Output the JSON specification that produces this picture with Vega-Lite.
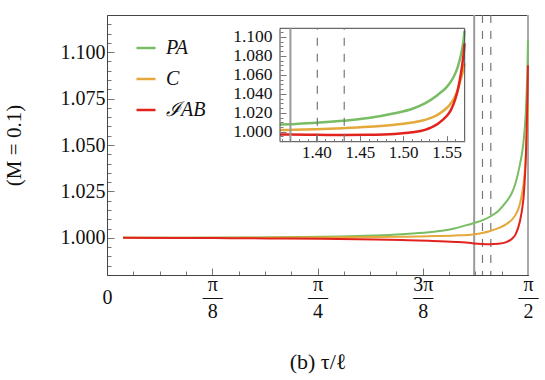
{
  "$schema": "https://vega.github.io/schema/vega-lite/v6.json",
  "width": 421,
  "height": 260,
  "autosize": {"type": "none"},
  "padding": {"left": 107, "top": 15, "right": 17, "bottom": 105},
  "background": "white",
  "config": {
    "view": {"stroke": "#444", "strokeWidth": 1},
    "font": "Liberation Serif",
    "axis": {
      "labelFont": "Liberation Serif",
      "titleFont": "Liberation Serif",
      "labelColor": "#111",
      "titleColor": "#111",
      "titleFontWeight": "normal",
      "grid": false,
      "domainColor": "#444",
      "tickColor": "#777",
      "labelOverlap": false,
      "labelFlush": false
    }
  },
  "datasets": {
    "curves": [
      {"x": 0.06, "s": "P_A", "y": 1.0000},
      {"x": 0.3, "s": "P_A", "y": 1.0001},
      {"x": 0.5, "s": "P_A", "y": 1.0002},
      {"x": 0.7, "s": "P_A", "y": 1.0004},
      {"x": 0.9, "s": "P_A", "y": 1.0008},
      {"x": 1.0, "s": "P_A", "y": 1.0013},
      {"x": 1.1, "s": "P_A", "y": 1.0020},
      {"x": 1.2, "s": "P_A", "y": 1.0030},
      {"x": 1.25, "s": "P_A", "y": 1.0038},
      {"x": 1.3, "s": "P_A", "y": 1.0052},
      {"x": 1.358, "s": "P_A", "y": 1.0075},
      {"x": 1.37, "s": "P_A", "y": 1.0080},
      {"x": 1.4, "s": "P_A", "y": 1.0094},
      {"x": 1.43, "s": "P_A", "y": 1.0115},
      {"x": 1.46, "s": "P_A", "y": 1.0145},
      {"x": 1.49, "s": "P_A", "y": 1.0195},
      {"x": 1.51, "s": "P_A", "y": 1.0240},
      {"x": 1.525, "s": "P_A", "y": 1.0298},
      {"x": 1.54, "s": "P_A", "y": 1.0390},
      {"x": 1.55, "s": "P_A", "y": 1.0470},
      {"x": 1.555, "s": "P_A", "y": 1.0530},
      {"x": 1.56, "s": "P_A", "y": 1.0615},
      {"x": 1.563, "s": "P_A", "y": 1.0690},
      {"x": 1.566, "s": "P_A", "y": 1.0790},
      {"x": 1.568, "s": "P_A", "y": 1.0878},
      {"x": 1.5695, "s": "P_A", "y": 1.0965},
      {"x": 1.5706, "s": "P_A", "y": 1.1065},
      {"x": 0.06, "s": "C", "y": 1.0000},
      {"x": 0.5, "s": "C", "y": 1.0000},
      {"x": 0.8, "s": "C", "y": 1.0002},
      {"x": 1.0, "s": "C", "y": 1.0004},
      {"x": 1.1, "s": "C", "y": 1.0006},
      {"x": 1.2, "s": "C", "y": 1.0009},
      {"x": 1.3, "s": "C", "y": 1.0013},
      {"x": 1.358, "s": "C", "y": 1.0017},
      {"x": 1.37, "s": "C", "y": 1.0019},
      {"x": 1.4, "s": "C", "y": 1.0026},
      {"x": 1.43, "s": "C", "y": 1.0037},
      {"x": 1.46, "s": "C", "y": 1.0052},
      {"x": 1.49, "s": "C", "y": 1.0074},
      {"x": 1.51, "s": "C", "y": 1.0097},
      {"x": 1.525, "s": "C", "y": 1.0125},
      {"x": 1.54, "s": "C", "y": 1.0180},
      {"x": 1.55, "s": "C", "y": 1.0250},
      {"x": 1.555, "s": "C", "y": 1.0300},
      {"x": 1.56, "s": "C", "y": 1.0380},
      {"x": 1.563, "s": "C", "y": 1.0450},
      {"x": 1.566, "s": "C", "y": 1.0545},
      {"x": 1.568, "s": "C", "y": 1.0610},
      {"x": 1.5695, "s": "C", "y": 1.0665},
      {"x": 1.5706, "s": "C", "y": 1.0720},
      {"x": 0.06, "s": "I_AB", "y": 1.0000},
      {"x": 0.4, "s": "I_AB", "y": 0.9999},
      {"x": 0.6, "s": "I_AB", "y": 0.9997},
      {"x": 0.8, "s": "I_AB", "y": 0.9995},
      {"x": 1.0, "s": "I_AB", "y": 0.9991},
      {"x": 1.1, "s": "I_AB", "y": 0.9988},
      {"x": 1.2, "s": "I_AB", "y": 0.9984},
      {"x": 1.3, "s": "I_AB", "y": 0.9978},
      {"x": 1.358, "s": "I_AB", "y": 0.9972},
      {"x": 1.37, "s": "I_AB", "y": 0.9970},
      {"x": 1.4, "s": "I_AB", "y": 0.9967},
      {"x": 1.43, "s": "I_AB", "y": 0.9966},
      {"x": 1.46, "s": "I_AB", "y": 0.9968},
      {"x": 1.49, "s": "I_AB", "y": 0.9977},
      {"x": 1.51, "s": "I_AB", "y": 0.9994},
      {"x": 1.525, "s": "I_AB", "y": 1.0020},
      {"x": 1.54, "s": "I_AB", "y": 1.0085},
      {"x": 1.55, "s": "I_AB", "y": 1.0165},
      {"x": 1.555, "s": "I_AB", "y": 1.0230},
      {"x": 1.56, "s": "I_AB", "y": 1.0345},
      {"x": 1.563, "s": "I_AB", "y": 1.0445},
      {"x": 1.566, "s": "I_AB", "y": 1.0590},
      {"x": 1.568, "s": "I_AB", "y": 1.0710},
      {"x": 1.5695, "s": "I_AB", "y": 1.0815},
      {"x": 1.5706, "s": "I_AB", "y": 1.0930}
    ],
    "vlines": [
      {"x": 1.37, "k": "cut"},
      {"x": 1.401, "k": "dash"},
      {"x": 1.432, "k": "dash"},
      {"x": 1.5707963, "k": "edge"}
    ]
  },
  "layer": [
    {
      "encoding": {
        "x": {
          "field": "x",
          "type": "quantitative",
          "scale": {"domain": [0, 1.5707963], "nice": false, "zero": false},
          "axis": {
            "orient": "bottom",
            "tickCount": 200,
            "values": [0, 0.09817477, 0.19634954, 0.29452431, 0.39269908, 0.49087385, 0.58904862, 0.68722339, 0.78539816, 0.88357293, 0.9817477, 1.07992247, 1.17809725, 1.27627202, 1.37444679, 1.47262156, 1.5707963],
            "labelExpr": "round(datum.value/(PI/32)) == 0 ? ['', '0'] : round(datum.value/(PI/32)) == 4 ? ['π','—','8'] : round(datum.value/(PI/32)) == 8 ? ['π','—','4'] : round(datum.value/(PI/32)) == 12 ? ['3π','—','8'] : round(datum.value/(PI/32)) == 16 ? ['π','—','2'] : ''",
            "tickSize": {"condition": {"test": "round(datum.value/(PI/32)) % 4 == 0", "value": -7}, "value": -4},
            "labelFontSize": 20,
            "labelLineHeight": 13.5,
            "labelBaseline": "top",
            "labelAngle": 0,
            "labelPadding": 6,
            "labelOverlap": false,
            "labelFlush": false,
            "title": "(b) τ/ℓ",
            "titleFontSize": 22,
            "titlePadding": 30
          }
        }
      },
      "layer": [
        {
          "data": {"name": "vlines"},
          "transform": [{"filter": "datum.k == 'cut'"}],
          "mark": {"type": "rule", "color": "#9a9a9a", "strokeWidth": 2},
          "encoding": {}
        },
        {
          "data": {"name": "vlines"},
          "transform": [{"filter": "datum.k == 'dash'"}],
          "mark": {"type": "rule", "color": "#777", "strokeWidth": 1.2, "strokeDash": [8, 8]},
          "encoding": {}
        },
        {
          "data": {"name": "vlines"},
          "transform": [{"filter": "datum.k == 'edge'"}],
          "mark": {"type": "rule", "color": "#aaa", "strokeWidth": 2},
          "encoding": {}
        },
        {
          "data": {"name": "curves"},
          "mark": {"type": "line", "strokeWidth": 2, "interpolate": "monotone"},
          "encoding": {
            "y": {
              "field": "y",
              "type": "quantitative",
              "scale": {"domain": [0.98, 1.12], "nice": false, "zero": false},
              "axis": {
                "orient": "left",
                "tickCount": 200,
                "values": [0.985, 0.99, 0.995, 1.0, 1.005, 1.01, 1.015, 1.02, 1.025, 1.03, 1.035, 1.04, 1.045, 1.05, 1.055, 1.06, 1.065, 1.07, 1.075, 1.08, 1.085, 1.09, 1.095, 1.1, 1.105, 1.11, 1.115],
                "labelExpr": "abs(datum.value*40 - round(datum.value*40)) < 1e-6 ? format(datum.value, '.3f') : ''",
                "tickSize": {"condition": {"test": "abs(datum.value*40 - round(datum.value*40)) < 1e-6", "value": -7}, "value": -4},
                "labelFontSize": 20,
                "labelPadding": 9,
                "labelOverlap": false,
                "title": "(M = 0.1)",
                "titleFontSize": 21,
                "titlePadding": 36
              }
            },
            "color": {
              "field": "s",
              "type": "nominal",
              "scale": {"domain": ["P_A", "C", "I_AB"], "range": ["#78bd64", "#e4a83b", "#e2221d"]},
              "legend": {
                "orient": "none",
                "legendX": 28,
                "legendY": 22,
                "title": null,
                "symbolType": "stroke",
                "symbolSize": 361,
                "symbolStrokeWidth": 2.5,
                "labelFont": "Liberation Serif",
                "labelFontSize": 20,
                "labelFontStyle": "italic",
                "labelColor": "#111",
                "labelOffset": 9,
                "rowPadding": 10,
                "padding": 0,
                "labelExpr": "datum.label == 'P_A' ? 'PA' : datum.label == 'I_AB' ? 'ℐAB' : datum.label"
              }
            }
          }
        }
      ]
    },
    {
      "layer": [
        {
          "data": {"name": "curves"},
          "transform": [{"filter": "datum.x >= 1.358"}],
          "mark": {"type": "line", "strokeWidth": 2.5, "interpolate": "monotone"},
          "encoding": {
            "x": {
              "field": "x",
              "type": "quantitative",
              "scale": {"domain": [1.358, 1.5708], "range": [173, 357.7], "nice": false, "zero": false},
              "axis": {
                "orient": "bottom",
                "offset": -133.3,
                "zindex": 2,
                "tickCount": 200,
                "values": [1.36, 1.37, 1.38, 1.39, 1.4, 1.41, 1.42, 1.43, 1.44, 1.45, 1.46, 1.47, 1.48, 1.49, 1.5, 1.51, 1.52, 1.53, 1.54, 1.55, 1.56, 1.57],
                "labelExpr": "abs(datum.value*20 - round(datum.value*20)) < 1e-6 ? format(datum.value, '.2f') : ''",
                "tickSize": {"condition": {"test": "abs(datum.value*20 - round(datum.value*20)) < 1e-6", "value": -6}, "value": -3},
                "labelFontSize": 17,
                "labelPadding": 9,
                "labelAngle": 0,
                "labelOverlap": false,
                "labelFlush": false,
                "domain": false,
                "title": null
              }
            },
            "y": {
              "field": "y",
              "type": "quantitative",
              "scale": {"domain": [0.9895, 1.109], "range": [126.7, 13.3], "nice": false, "zero": false},
              "axis": {
                "orient": "right",
                "offset": -248,
                "zindex": 2,
                "tickCount": 200,
                "values": [0.99, 0.995, 1.0, 1.005, 1.01, 1.015, 1.02, 1.025, 1.03, 1.035, 1.04, 1.045, 1.05, 1.055, 1.06, 1.065, 1.07, 1.075, 1.08, 1.085, 1.09, 1.095, 1.1, 1.105],
                "labelExpr": "abs(datum.value*50 - round(datum.value*50)) < 1e-6 ? format(datum.value, '.3f') : ''",
                "tickSize": {"condition": {"test": "abs(datum.value*50 - round(datum.value*50)) < 1e-6", "value": 6}, "value": 3},
                "labelFontSize": 17.5,
                "labelPadding": -14,
                "labelAlign": "right",
                "labelOverlap": false,
                "labelFlush": false,
                "domain": false,
                "title": null
              }
            },
            "color": {"field": "s", "type": "nominal"}
          }
        },
        {
          "data": {"values": [{}]},
          "mark": {"type": "rect", "fill": null, "stroke": "#444", "strokeWidth": 1},
          "encoding": {
            "x": {"datum": 1.358, "type": "quantitative"},
            "x2": {"datum": 1.5708},
            "y": {"datum": 0.9895, "type": "quantitative"},
            "y2": {"datum": 1.109}
          }
        },
        {
          "data": {"name": "vlines"},
          "transform": [{"filter": "datum.k == 'cut'"}],
          "mark": {"type": "rule", "color": "#9a9a9a", "strokeWidth": 2},
          "encoding": {
            "x": {"field": "x", "type": "quantitative"},
            "y": {"datum": 0.9895, "type": "quantitative"},
            "y2": {"datum": 1.109}
          }
        },
        {
          "data": {"name": "vlines"},
          "transform": [{"filter": "datum.k == 'dash'"}],
          "mark": {"type": "rule", "color": "#777", "strokeWidth": 1.2, "strokeDash": [8, 8]},
          "encoding": {
            "x": {"field": "x", "type": "quantitative"},
            "y": {"datum": 0.9895, "type": "quantitative"},
            "y2": {"datum": 1.109}
          }
        }
      ]
    }
  ],
  "resolve": {"scale": {"x": "independent", "y": "independent"}}
}
